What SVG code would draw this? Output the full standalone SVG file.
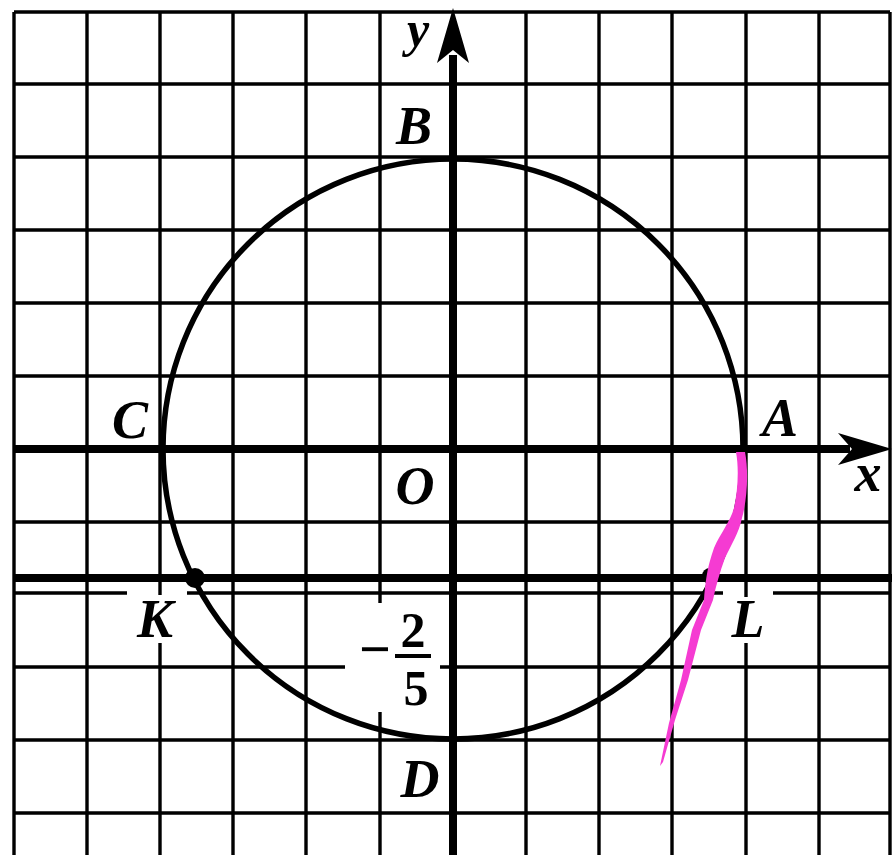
<svg xmlns="http://www.w3.org/2000/svg" width="892" height="855" viewBox="0 0 892 855">
<style>
.grid{stroke:#000;stroke-width:3.4;fill:none}
.axis{stroke:#000;stroke-width:8;fill:none}
.lbl{font-family:"Liberation Serif","Times New Roman",serif;font-weight:bold;font-style:italic;font-size:54px;fill:#000;text-anchor:middle}
.num{font-family:"Liberation Serif","Times New Roman",serif;font-weight:bold;font-size:50px;fill:#000;text-anchor:middle}
</style>
<rect x="0" y="0" width="892" height="855" fill="#fff"/>
<g id="grid" class="grid">
<path d="M14,12V855 M87,12V855 M160,12V595 M160,643V855 M233,12V855 M306,12V855 M380,12V603 M380,712V855 M526,12V855 M599,12V855 M672,12V855 M746,12V597 M746,643V855 M819,12V855 M890,12V855"/>
<path d="M14,12H890 M14,84H890 M14,157H890 M14,230H890 M14,303H890 M14,376H890 M14,522H890 M14,593H127 M187,593H723 M773,593H890 M14,667H345 M440,667H890 M14,740H890 M14,813H890"/>
</g>
<g id="connectors">
<path class="axis" d="M14,449H850"/>
<path d="M892,449L838,433L852,449L838,465Z" fill="#000"/>
<path class="axis" d="M453,855V55"/>
<path d="M453,8L469,63L453,50L437,63Z" fill="#000"/>
<path class="axis" d="M14,578H892"/>
</g>
<g id="circle">
<circle cx="453" cy="449" r="290" fill="none" stroke="#000" stroke-width="5.5"/>
</g>
<g id="pointK"><circle cx="195" cy="578" r="10" fill="#000"/></g>
<g id="pointL"><circle cx="710" cy="576" r="8" fill="#000"/></g>
<g id="highlight">
<path d="M736,452 C739,468 738,490 734,508 C730,522 720,534 714,548 C710,560 706,572 704,600 L692,630 L681,680 L669,723 L660,766 L663,762 L675,720 L688,680 L701,630 L713,600 C716,585 720,572 725,558 C731,545 739,533 742,518 C747,500 749,472 745,452 Z" fill="#f53bd2"/>
</g>
<g id="labels">
<text class="lbl" x="418" y="46" style="font-size:50px">y</text>
<text class="lbl" x="414" y="144">B</text>
<text class="lbl" x="130" y="438">C</text>
<text class="lbl" x="780" y="436">A</text>
<text class="lbl" x="868" y="491">x</text>
<text class="lbl" x="415" y="504">O</text>
<text class="lbl" x="155" y="637">K</text>
<text class="lbl" x="748" y="637">L</text>
<text class="lbl" x="420" y="797">D</text>
<text class="num" x="375" y="668" style="font-size:56px">−</text>
<text class="num" x="413" y="647">2</text>
<line x1="395" y1="656" x2="431" y2="656" stroke="#000" stroke-width="4"/>
<text class="num" x="416" y="705">5</text>
</g>
</svg>
